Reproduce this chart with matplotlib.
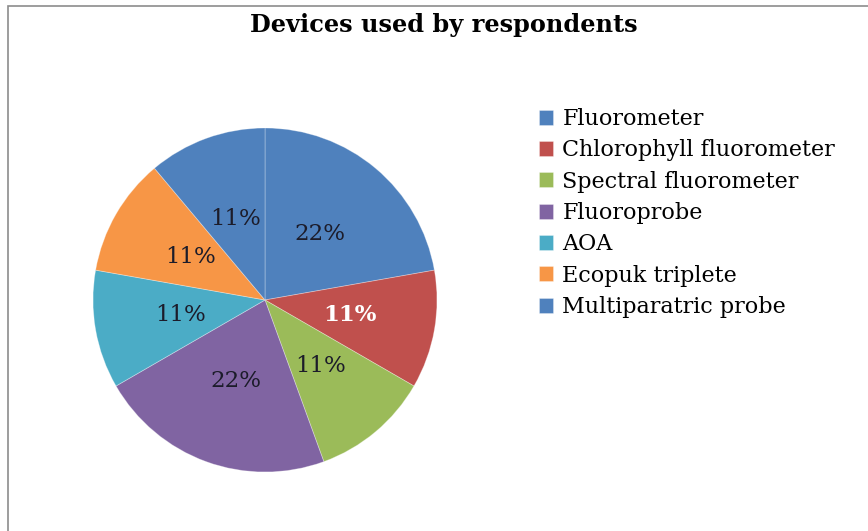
import matplotlib.pyplot as plt
from matplotlib.patches import Rectangle

devices = ['Fluorometer', 'Chlorophyll fluorometer', 'Spectral fluorometer',
           'Fluoroprobe', 'AOA', 'Ecopuk triplete', 'Multiparatric probe']
counts = [2, 1, 1, 2, 1, 1, 1]
colors = ['#4F81BD', '#C0504D', '#9BBB59', '#8064A2', '#4BACC6', '#F79646', '#4F81BD']

W, H = 868, 531
fig = plt.figure(figsize=(W / 100, H / 100), dpi=100)

# chart area border
fig.patches.append(Rectangle((8 / W, -0.01), 1.0, (H - 6) / H + 0.01, transform=fig.transFigure,
                             fill=False, edgecolor='#8c8c8c', linewidth=1.2))

fig.text(444 / W, 1 - 25 / H, 'Devices used by respondents', ha='center', va='center',
         fontsize=17.3, fontweight='bold', family='DejaVu Serif')

# pie axes: center (265, 300), radius 172 px
cx, cy, r = 265, 300, 172
ax = fig.add_axes([(cx - r) / W, (H - cy - r) / H, 2 * r / W, 2 * r / H])
wedges, texts, autotexts = ax.pie(counts, colors=colors, startangle=90, counterclock=False,
                                  autopct='%1.0f%%', pctdistance=0.5,
                                  wedgeprops=dict(edgecolor=(1, 1, 1, 0.35), linewidth=0.6),
                                  textprops=dict(fontsize=16.5, family='DejaVu Serif', color='#1c1c2a'))
autotexts[1].set_color('white')
autotexts[1].set_fontweight('bold')
ax.set_xlim(-1.0, 1.0)
ax.set_ylim(-1.0, 1.0)
ax.set_aspect('equal')
ax.axis('off')

leg = fig.legend(wedges, devices, loc='upper left', bbox_to_anchor=(519 / W, 1 - 88 / H),
                 frameon=False, prop=dict(family='DejaVu Serif', size=16),
                 handlelength=0.65, handleheight=0.65, handletextpad=0.4, labelspacing=0.42)

fig.savefig('out.png', dpi=100)
